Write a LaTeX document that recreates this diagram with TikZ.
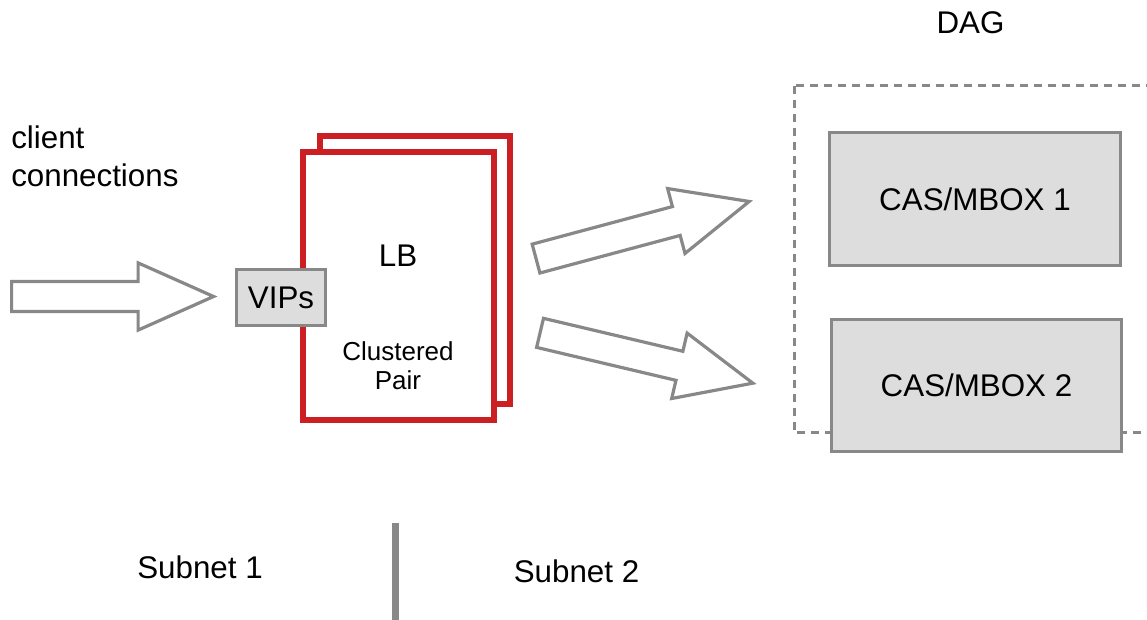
\documentclass[tikz,border=0pt]{standalone}
\usepackage{fontspec}
\setmainfont{Liberation Sans}
\usetikzlibrary{shapes.arrows,positioning}

\definecolor{linegray}{HTML}{888888}
\definecolor{boxfill}{HTML}{DDDDDD}
\definecolor{lbred}{HTML}{CC1F24}

\begin{document}
\begin{tikzpicture}[
  x=0.75pt,y=-0.75pt,
  every node/.style={inner sep=0pt,font=\fontsize{23.5}{28}\selectfont},
  server/.style={draw=linegray,fill=boxfill,line width=2.25pt,
    minimum width=218pt,minimum height=99.5pt,text depth=0pt},
  lbbox/.style={draw=lbred,fill=white,line width=4.5pt,
    minimum width=143pt,minimum height=201pt},
  flow/.style={single arrow,draw=linegray,fill=white,line width=2.4pt,
    single arrow head extend=14pt,single arrow tip angle=48,
    inner xsep=0pt,inner ysep=10pt,minimum width=0pt,minimum height=#1,anchor=tail},
  dagframe/.style={draw=linegray,line width=2.25pt,dash pattern=on 6pt off 4.5pt}
]
  \useasboundingbox (0,0) rectangle (1147,620);

  % incoming traffic
  \node[align=left,anchor=north west] (clients) at (11,126) {client\\connections};
  \node[flow=151.5pt] (inflow) at (10,296.5) {};

  % load balancer pair
  \node[lbbox] (lbback) at (415,270) {};
  \node[lbbox] (lbfront) at (398.5,286) {};
  \node (lblabel) at (398,255.5) {LB};
  \node[font=\fontsize{19.5}{22}\selectfont,align=center] (pairlabel) at (398,366) {Clustered\\Pair};
  \node[draw=linegray,fill=boxfill,line width=2.25pt,minimum width=66.75pt,
    minimum height=42pt,text depth=0pt] (vips) at (281,297.5) {VIPs};

  % outgoing traffic
  \node[flow=165.5pt,rotate=15] (upflow) at (534.5,259) {};
  \node[flow=164pt,rotate=-13.3] (downflow) at (538.5,332.5) {};

  % database availability group
  \node (daglabel) at (970.5,22.5) {DAG};
  \draw[dagframe] (794,86) rectangle (1180,433);
  \node[server] (mbox1) at (975,199) {CAS/MBOX 1};
  \node[server] (mbox2) at (976.5,385.5) {CAS/MBOX 2};

  % subnets
  \coordinate (divtop) at (395,523);
  \coordinate (divbot) at (395,622);
  \draw[linegray,line width=5.25pt] (divtop) -- (divbot);
  \node[anchor=base] (subnet1) at (200,578) {Subnet 1};
  \node[anchor=base] (subnet2) at (576.5,582) {Subnet 2};
\end{tikzpicture}
\end{document}
